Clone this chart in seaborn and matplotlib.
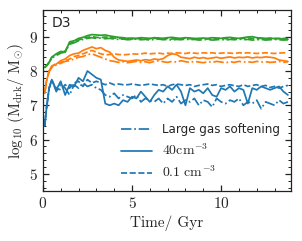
import numpy as np
import pandas as pd
import matplotlib
matplotlib.use('Agg')
import matplotlib.pyplot as plt
import seaborn as sns
from matplotlib.lines import Line2D
from matplotlib.ticker import AutoMinorLocator, MultipleLocator

# time in Gyr
time = [0.1, 0.2, 0.35, 0.5, 0.75, 1.0, 1.25, 1.5, 1.75, 2.0, 2.25, 2.5, 2.75, 3.0,
        3.25, 3.5, 3.75, 4.0, 4.25, 4.5, 4.75, 5.0, 5.25, 5.5, 5.75, 6.0, 6.25, 6.5,
        6.75, 7.0, 7.25, 7.5, 7.75, 8.0, 8.25, 8.5, 8.75, 9.0, 9.25, 9.5, 9.75, 10.0,
        10.25, 10.5, 10.75, 11.0, 11.25, 11.5, 11.75, 12.0, 12.25, 12.5, 12.75, 13.0,
        13.25, 13.5, 13.75]

# log10 dark mass, three haloes x three runs
green_40 = [8.10, 8.15, 8.25, 8.40, 8.50, 8.57, 8.55, 8.85, 8.88, 8.95, 8.98, 9.03, 9.06, 9.05,
            9.04, 9.05, 9.02, 9.00, 8.98, 8.97, 8.95, 8.96, 8.95, 8.97, 8.96, 8.95, 8.97, 8.96,
            8.95, 8.97, 8.98, 8.96, 8.95, 8.97, 8.96, 8.95, 8.94, 8.96, 8.95, 8.97, 8.96, 8.95,
            8.97, 8.98, 8.96, 8.95, 8.97, 8.99, 9.00, 8.97, 8.96, 8.95, 8.96, 8.94, 8.95, 8.93, 8.92]
green_01 = [8.10, 8.15, 8.25, 8.40, 8.48, 8.55, 8.58, 8.80, 8.85, 8.90, 8.95, 8.98, 9.00, 8.98,
            8.97, 8.99, 8.98, 8.96, 8.95, 8.94, 8.95, 8.93, 8.94, 8.95, 8.93, 8.94, 8.95, 8.96,
            8.94, 8.95, 8.93, 8.95, 8.94, 8.96, 8.94, 8.93, 8.95, 8.94, 8.93, 8.95, 8.94, 8.96,
            8.94, 8.95, 8.93, 8.94, 8.95, 8.96, 8.95, 8.94, 8.95, 8.93, 8.94, 8.95, 8.94, 8.95, 8.94]
green_soft = [8.10, 8.15, 8.25, 8.38, 8.45, 8.52, 8.55, 8.78, 8.82, 8.88, 8.92, 8.95, 8.97, 8.95,
              8.96, 8.94, 8.95, 8.93, 8.92, 8.93, 8.91, 8.92, 8.93, 8.91, 8.92, 8.90, 8.92, 8.93,
              8.91, 8.92, 8.90, 8.92, 8.91, 8.93, 8.91, 8.92, 8.90, 8.91, 8.92, 8.90, 8.91, 8.92,
              8.90, 8.92, 8.91, 8.93, 8.91, 8.92, 8.90, 8.91, 8.92, 8.90, 8.91, 8.92, 8.91, 8.90, 8.91]

orange_40 = [7.35, 7.70, 8.00, 8.15, 8.20, 8.30, 8.35, 8.45, 8.50, 8.52, 8.60, 8.65, 8.70, 8.65,
             8.68, 8.60, 8.55, 8.40, 8.32, 8.30, 8.28, 8.30, 8.32, 8.30, 8.33, 8.31, 8.35, 8.33,
             8.36, 8.45, 8.50, 8.48, 8.40, 8.38, 8.36, 8.40, 8.37, 8.39, 8.36, 8.38, 8.40, 8.37,
             8.39, 8.41, 8.38, 8.40, 8.39, 8.41, 8.38, 8.40, 8.39, 8.41, 8.40, 8.38, 8.32, 8.30, 8.28]
orange_01 = [7.35, 7.70, 8.00, 8.12, 8.22, 8.25, 8.30, 8.35, 8.42, 8.45, 8.50, 8.55, 8.60, 8.55,
             8.50, 8.47, 8.48, 8.50, 8.48, 8.47, 8.48, 8.50, 8.49, 8.50, 8.52, 8.50, 8.51, 8.52,
             8.50, 8.52, 8.51, 8.53, 8.52, 8.51, 8.53, 8.52, 8.51, 8.53, 8.52, 8.53, 8.51, 8.52,
             8.53, 8.52, 8.51, 8.53, 8.52, 8.53, 8.52, 8.51, 8.52, 8.53, 8.52, 8.51, 8.52, 8.53, 8.52]
orange_soft = [7.35, 7.70, 7.98, 8.10, 8.18, 8.22, 8.28, 8.30, 8.35, 8.40, 8.42, 8.48, 8.50, 8.45,
               8.40, 8.35, 8.30, 8.28, 8.25, 8.27, 8.24, 8.26, 8.28, 8.25, 8.27, 8.24, 8.28, 8.30,
               8.27, 8.25, 8.28, 8.26, 8.30, 8.27, 8.25, 8.28, 8.26, 8.24, 8.27, 8.25, 8.28, 8.26,
               8.24, 8.27, 8.25, 8.28, 8.26, 8.27, 8.25, 8.28, 8.26, 8.27, 8.25, 8.26, 8.28, 8.25, 8.27]

blue_40 = [6.40, 6.90, 7.50, 7.75, 7.45, 7.70, 7.30, 7.60, 7.55, 7.80, 7.70, 8.00, 7.90, 7.80,
           7.75, 7.05, 7.00, 7.05, 7.00, 7.15, 7.10, 7.25, 7.20, 7.40, 7.25, 7.10, 7.30, 7.45,
           7.40, 7.55, 7.45, 7.60, 7.40, 7.00, 7.50, 7.40, 7.45, 7.35, 7.50, 7.30, 7.25, 7.50,
           7.45, 7.55, 7.40, 7.50, 7.45, 7.05, 7.50, 7.45, 7.55, 7.50, 7.45, 7.50, 7.55, 7.40, 7.30]
blue_01 = [6.40, 6.90, 7.50, 7.70, 7.50, 7.45, 7.60, 7.50, 7.65, 7.70, 7.55, 7.75, 7.65, 7.70,
           7.65, 7.60, 7.65, 7.60, 7.62, 7.60, 7.60, 7.62, 7.60, 7.58, 7.60, 7.62, 7.60, 7.58,
           7.60, 7.55, 7.60, 7.62, 7.60, 7.58, 7.60, 7.55, 7.58, 7.60, 7.62, 7.58, 7.60, 7.55,
           7.58, 7.60, 7.57, 7.55, 7.60, 7.55, 7.58, 7.60, 7.55, 7.58, 7.52, 7.55, 7.50, 7.55, 7.58]
blue_soft = [6.40, 6.90, 7.50, 7.75, 7.40, 7.60, 7.50, 7.30, 7.60, 7.50, 7.65, 7.55, 7.60, 7.50,
             7.45, 7.30, 7.25, 7.35, 7.20, 7.30, 7.25, 7.20, 7.30, 7.10, 7.20, 7.15, 7.10, 7.20,
             7.05, 7.20, 7.10, 7.25, 7.05, 7.15, 7.10, 7.20, 7.00, 7.15, 7.10, 6.95, 7.20, 7.10,
             7.05, 7.15, 7.10, 7.20, 7.00, 7.10, 7.05, 7.15, 6.90, 7.10, 7.05, 7.00, 7.15, 7.05, 7.10]

series = {
    ('blue', '40'): blue_40, ('blue', '01'): blue_01, ('blue', 'soft'): blue_soft,
    ('orange', '40'): orange_40, ('orange', '01'): orange_01, ('orange', 'soft'): orange_soft,
    ('green', '40'): green_40, ('green', '01'): green_01, ('green', 'soft'): green_soft,
}
rows = []
for (halo, run), vals in series.items():
    for t, m in zip(time, vals):
        rows.append({'t': t, 'm': m, 'halo': halo, 'run': run})
df = pd.DataFrame(rows)

sns.set_style('ticks')
plt.rcParams['font.family'] = 'serif'
plt.rcParams['font.serif'] = ['cmr10']
plt.rcParams['mathtext.fontset'] = 'cm'
plt.rcParams['axes.formatter.use_mathtext'] = True

pal = {'blue': '#1f77b4', 'orange': '#ff7f0e', 'green': '#2ca02c'}
dashes = {'40': '', '01': (3.5, 1.5), 'soft': (6, 1.6, 1, 1.6)}

fig = plt.figure(figsize=(3.02, 2.41), dpi=100)
ax = fig.add_axes([0.142, 0.207, 0.822, 0.752])
sns.lineplot(data=df, x='t', y='m', hue='halo', style='run', palette=pal, dashes=dashes,
             linewidth=1.25, legend=False, ax=ax, estimator=None)

ax.set_xlim(0, 13.93)
ax.set_ylim(4.5, 9.78)
ax.xaxis.set_major_locator(MultipleLocator(5))
ax.xaxis.set_minor_locator(AutoMinorLocator(5))
ax.yaxis.set_major_locator(MultipleLocator(1))
ax.yaxis.set_minor_locator(AutoMinorLocator(5))
ax.tick_params(which='both', direction='in', top=True, right=True, labelsize=11,
               color='#222222')
ax.tick_params(which='major', length=4.5, width=0.9)
ax.tick_params(which='minor', length=2.3, width=0.7)
for s in ax.spines.values():
    s.set_linewidth(0.9)
    s.set_color('#222222')

ax.set_xlabel(r'Time/ Gyr', fontsize=11, labelpad=3)
ax.set_ylabel(r'$\log_{10}\,(\mathrm{M_{drk}/\ M_{\odot}})$', fontsize=11, labelpad=2)
ax.text(0.035, 0.965, 'D3', transform=ax.transAxes, ha='left', va='top', fontsize=10,
        family='DejaVu Sans')

handles = [Line2D([], [], color=pal['blue'], lw=1.25, dashes=dashes['soft']),
           Line2D([], [], color=pal['blue'], lw=1.25),
           Line2D([], [], color=pal['blue'], lw=1.25, dashes=dashes['01'])]
labels = ['Large gas softening', r'$\mathrm{40cm^{-3}}$', r'$\mathrm{0.1\ cm^{-3}}$']
leg = ax.legend(handles, labels, loc='lower right', frameon=False, fontsize=8.6,
                handlelength=2.6, handletextpad=0.9, borderaxespad=0.5, labelspacing=0.55)
txts = leg.get_texts()
txts[0].set_family('DejaVu Sans')
txts[1].set_fontsize(10)
txts[2].set_fontsize(10)

fig.savefig('out.png', dpi=100)
